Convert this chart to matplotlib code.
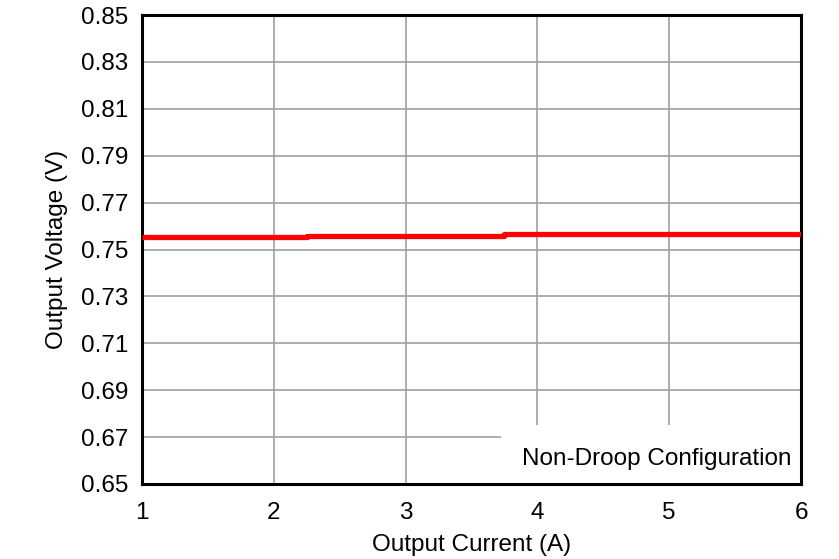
import matplotlib
matplotlib.use("Agg")
import matplotlib.pyplot as plt

plt.rcParams['font.family'] = ['Liberation Sans', 'DejaVu Sans']

current = [1.0, 2.25, 2.25, 3.75, 3.75, 6.0]
voltage = [0.7554, 0.7554, 0.7559, 0.7559, 0.7564, 0.7564]

x_ticks = [1, 2, 3, 4, 5, 6]
y_ticks = [0.65, 0.67, 0.69, 0.71, 0.73, 0.75, 0.77, 0.79, 0.81, 0.83, 0.85]

fig = plt.figure(figsize=(8.39, 5.59), dpi=100)
ax = fig.add_axes([142 / 839, 1 - 484 / 559, 659 / 839, 469 / 559])

ax.plot(current, voltage, color='#ff0000', linewidth=3.8, solid_capstyle='butt', zorder=3)

ax.set_xlim(1, 6)
ax.set_ylim(0.65, 0.85)
ax.set_xticks(x_ticks)
ax.set_yticks(y_ticks)
ax.set_yticklabels([f"{v:.2f}" for v in y_ticks])
ax.grid(True, color='#a0a0a0', linewidth=1.2)
ax.set_axisbelow(True)
ax.tick_params(axis='y', length=0, labelsize=17.5, pad=10)
ax.tick_params(axis='x', length=0, labelsize=17.5, pad=13)

for s in ax.spines.values():
    s.set_linewidth(2.2)
    s.set_color('black')

ax.set_xlabel('Output Current (A)', fontsize=17.5, labelpad=7)
ax.set_ylabel('Output Voltage (V)', fontsize=17.5, labelpad=9)

ax.text(0.985, 0.054, 'Non-Droop Configuration', transform=ax.transAxes,
        ha='right', va='center', fontsize=17.5, zorder=4)
# white patch hiding grid behind the label
ax.add_patch(plt.Rectangle((0.545, 0.0), 0.455, 0.125, transform=ax.transAxes,
                           facecolor='white', edgecolor='none', zorder=2))

fig.savefig('out.png', dpi=100)
